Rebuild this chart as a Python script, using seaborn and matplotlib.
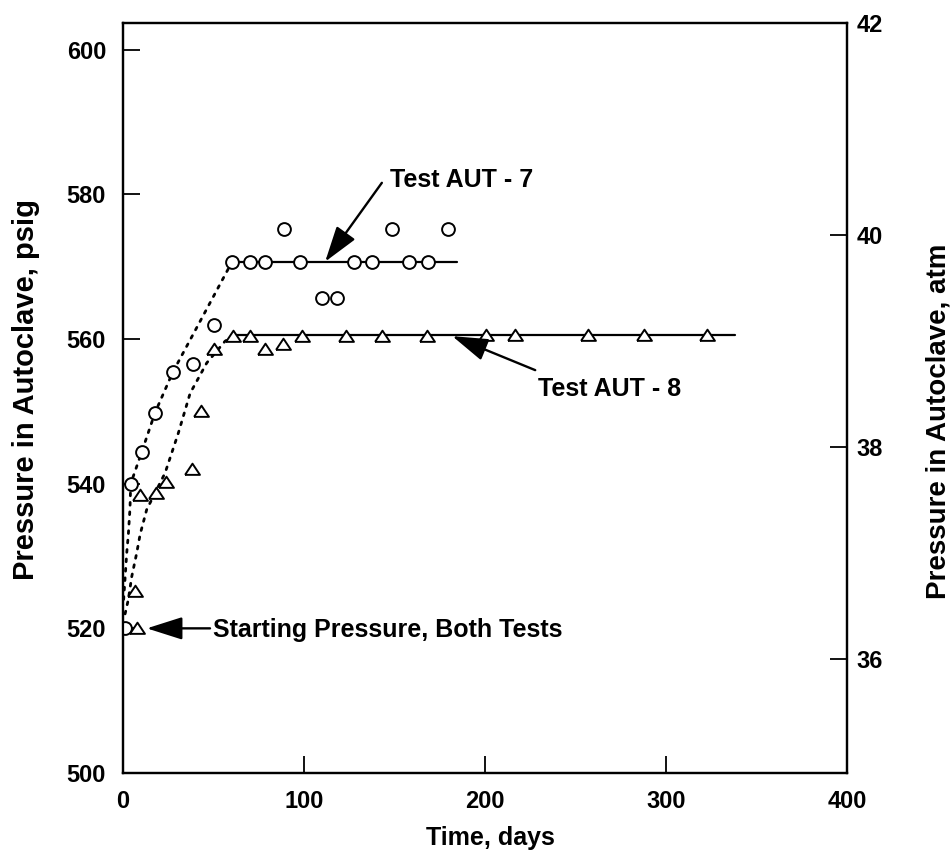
import matplotlib
matplotlib.use("Agg")
import matplotlib.pyplot as plt
import seaborn as sns

# ── Data ──────────────────────────────────────────────────────────────────────

# Test AUT-7 (circles)
aut7_days = [1.3, 4.4, 10.5, 17.8, 27.6, 39.0, 50.4, 60.2, 70.3, 78.6,
             89.1, 97.9, 110.0, 118.6, 127.8, 137.7, 148.8, 158.2, 168.7, 179.7]
aut7_psig = [520.0, 540.0, 544.4, 549.8, 555.4, 556.5, 562.0, 570.6, 570.6, 570.6,
             575.2, 570.6, 565.7, 565.7, 570.6, 570.6, 575.2, 570.6, 570.6, 575.2]

# Test AUT-8 (triangles)
aut8_days = [8.0, 6.8, 9.6, 18.2, 23.9, 38.1, 43.1, 50.4, 60.8, 70.2, 78.5,
             88.4, 99.2, 123.2, 143.4, 168.3, 200.6, 216.7, 257.2, 287.6, 322.7]
aut8_psig = [520.0, 525.2, 538.4, 538.7, 540.3, 542.1, 550.0, 558.6, 560.4, 560.4, 558.6,
             559.3, 560.4, 560.4, 560.4, 560.4, 560.5, 560.5, 560.6, 560.6, 560.6]

# dotted build-up curves
aut7_trend_days = [0.5, 1.3, 2.2, 3.1, 4.0, 4.4, 10.5, 17.8, 27.6, 60.2]
aut7_trend_psig = [524.0, 527.0, 530.4, 533.0, 536.6, 540.0, 544.4, 549.8, 555.4, 570.6]
aut8_trend_days = [1.3, 3.1, 5.0, 7.7, 9.6, 13.2, 23.4, 30.7, 37.2, 46.4, 56.5, 60.8]
aut8_trend_psig = [522.0, 524.0, 527.2, 530.4, 533.0, 536.4, 541.5, 547.0, 552.5, 556.7, 559.7, 560.4]

# steady-state lines
aut7_plateau_days = [60.2, 184.7]
aut7_plateau_psig = [570.6, 570.6]
aut8_plateau_days = [60.8, 338.3]
aut8_plateau_psig = [560.5, 560.5]

x_ticks = [0, 100, 200, 300, 400]
psig_ticks = [500, 520, 540, 560, 580, 600]
atm_ticks = [36, 38, 40, 42]

FONT = ["Liberation Sans", "DejaVu Sans"]

sns.set_theme(style="ticks")
plt.rcParams["font.family"] = FONT
plt.rcParams["font.weight"] = "bold"
for key in ("text.color", "axes.labelcolor", "xtick.color", "ytick.color"):
    plt.rcParams[key] = "black"

fig = plt.figure(figsize=(9.53, 8.57), dpi=100)
ax = fig.add_axes([0.1288, 0.098, 0.76, 0.8752])

# dotted transition curves
dots = dict(color="black", linewidth=2.0, linestyle=(0, (1, 2.4)),
            dash_capstyle="round", sort=False, estimator=None, zorder=2)
sns.lineplot(x=aut7_trend_days, y=aut7_trend_psig, ax=ax, **dots)
sns.lineplot(x=aut8_trend_days, y=aut8_trend_psig, ax=ax, **dots)

# solid plateau lines
solid = dict(color="black", linewidth=1.6, sort=False, estimator=None, zorder=2)
sns.lineplot(x=aut7_plateau_days, y=aut7_plateau_psig, ax=ax, **solid)
sns.lineplot(x=aut8_plateau_days, y=aut8_plateau_psig, ax=ax, **solid)

# markers
tri = [(-1, -0.72), (1, -0.72), (0, 0.78), (-1, -0.72)]
sns.scatterplot(x=aut7_days, y=aut7_psig, ax=ax, marker="o", s=85,
                color="white", edgecolor="black", linewidth=1.4, zorder=3)
sns.scatterplot(x=aut8_days, y=aut8_psig, ax=ax, marker=tri, s=115,
                color="white", edgecolor="black", linewidth=1.4, zorder=3)

# annotations
arrow = dict(arrowstyle="-|>,head_length=1.1,head_width=0.35", color="black",
             lw=1.7, mutation_scale=20, shrinkA=0, shrinkB=0)
ax.annotate("", xy=(111.8, 570.7), xytext=(143.1, 581.6), arrowprops=arrow)
ax.annotate("", xy=(182.0, 560.4), xytext=(227.8, 555.7), arrowprops=arrow)
ax.annotate("", xy=(13.3, 520.0), xytext=(48.2, 520.0), arrowprops=arrow)

txt = dict(fontsize=18, fontweight="bold", va="center", ha="left")
ax.text(147.8, 582.0, "Test AUT - 7", **txt)
ax.text(229.4, 553.1, "Test AUT - 8", **txt)
ax.text(49.9, 519.8, "Starting Pressure, Both Tests", **txt)

# left / bottom axes
ax.set_xlim(0, 400)
ax.set_ylim(500, 603.7)
ax.set_xticks(x_ticks)
ax.set_yticks(psig_ticks)
ax.tick_params(axis="both", direction="in", length=12, width=1.3,
               labelsize=17, pad=12, top=False, right=False)
ax.set_xlabel("Time, days", fontsize=18, fontweight="bold")
ax.set_ylabel("Pressure in Autoclave, psig", fontsize=21, fontweight="bold")
ax.xaxis.set_label_coords(0.507, -0.071)
ax.yaxis.set_label_coords(-0.114, 0.511)

# right axis in atm
ax2 = ax.twinx()
ax2.set_ylim(34.93, 42.0)
ax2.set_yticks(atm_ticks)
ax2.tick_params(axis="y", direction="in", length=12, width=1.3,
                labelsize=17, pad=7)
ax2.set_ylabel("Pressure in Autoclave, atm", fontsize=20, fontweight="bold")
ax2.yaxis.set_label_coords(1.108, 0.469)

for a in (ax, ax2):
    for sp in a.spines.values():
        sp.set_visible(True)
        sp.set_linewidth(1.6)
        sp.set_color("black")
    for lab in a.get_xticklabels() + a.get_yticklabels():
        lab.set_fontweight("bold")

fig.savefig("out.png", dpi=100)
